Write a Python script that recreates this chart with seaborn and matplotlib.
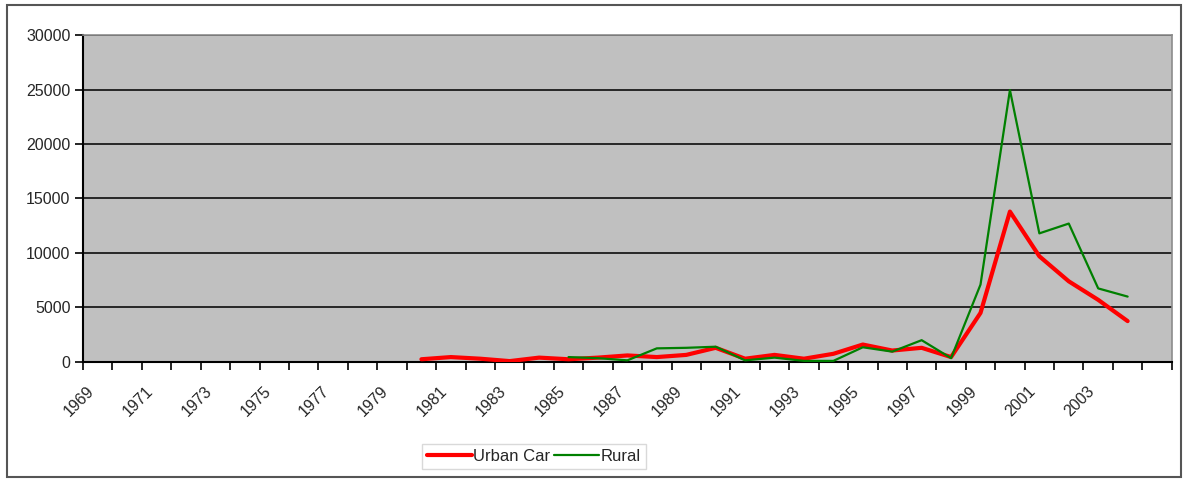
import numpy as np
import pandas as pd
import matplotlib.pyplot as plt
import matplotlib.transforms as mtransforms
import seaborn as sns
from matplotlib.patches import Rectangle

# -------------------- #
# Data
# -------------------- #
years = list(range(1969, 2006))
urban_years = list(range(1980, 2005))
urban_car = [250, 450, 300, 80, 400, 250, 400, 600, 450, 650,
             1300, 300, 650, 300, 750, 1600, 1050, 1300, 450, 4500,
             13800, 9700, 7400, 5700, 3750]
rural_years = list(range(1985, 2005))
rural = [450, 350, 150, 1250, 1300, 1400, 150, 400, 100, 100,
         1350, 950, 2000, 350, 7100, 24950, 11800, 12700, 6750, 6000]
label_years = list(range(1969, 2004, 2))

df = pd.concat([
    pd.DataFrame({"year": urban_years, "value": urban_car, "series": "Urban Car"}),
    pd.DataFrame({"year": rural_years, "value": rural, "series": "Rural"}),
])

sns.set_style("white")
plt.rcParams['font.family'] = ['Liberation Sans', 'DejaVu Sans']

fig = plt.figure(figsize=(11.86, 4.79), dpi=100)
ax = fig.add_axes([0.070, 0.2443, 0.918, 0.6826])
ax.set_facecolor("#c0c0c0")

sns.lineplot(data=df, x="year", y="value", hue="series", size="series",
             palette={"Urban Car": "#ff0000", "Rural": "#008000"},
             sizes={"Urban Car": 3.0, "Rural": 1.6},
             legend=False, ax=ax, zorder=3)

# -------------------- #
# Axes styling (Excel look)
# -------------------- #
ax.set_xlim(years[0] - 0.5, years[-1] + 0.5)
ax.set_ylim(0, 30000)
ax.set_yticks(range(0, 30001, 5000))
ax.yaxis.grid(True, color="#1a1a1a", linewidth=1.3)
ax.set_axisbelow(True)

ax.set_xticks(label_years)
ax.set_xticklabels([str(y) for y in label_years], rotation=45, ha="right",
                   va="center", rotation_mode="anchor")
ax.set_xticks([y - 0.5 for y in years] + [years[-1] + 0.5], minor=True)
ax.tick_params(axis="x", which="major", length=0, pad=19, labelsize=11.5)
ax.tick_params(axis="x", which="minor", length=6, width=1.2, color="black",
               direction="out", bottom=True)
ax.tick_params(axis="y", length=6, width=1.2, color="black", direction="out",
               left=True, labelsize=11.5, pad=3)
ax.set_xlabel("")
ax.set_ylabel("")

# nudge rotated year labels a little to the left
shift = mtransforms.ScaledTranslation(-6 / 100, 0, fig.dpi_scale_trans)
for lab in ax.get_xticklabels():
    lab.set_transform(lab.get_transform() + shift)

for side in ["top", "right"]:
    ax.spines[side].set_color("#8c8c8c")
    ax.spines[side].set_linewidth(1.2)
for side in ["left", "bottom"]:
    ax.spines[side].set_color("black")
    ax.spines[side].set_linewidth(1.5)

# Legend
handles = [plt.Line2D([], [], color="#ff0000", lw=3.0),
           plt.Line2D([], [], color="#008000", lw=1.6)]
leg = fig.legend(handles, ["Urban Car", "Rural"], loc="center",
                 bbox_to_anchor=(0.450, 0.047), ncol=2, fontsize=12,
                 handlelength=2.7, handletextpad=0.1, columnspacing=0.2,
                 borderpad=0.3, fancybox=False, frameon=True)
leg.get_frame().set_edgecolor("#d0d0d0")
leg.get_frame().set_linewidth(1.0)

# Outer chart border
fig.patches.append(Rectangle((0.006, 0.004), 0.99, 0.986, transform=fig.transFigure,
                             fill=False, edgecolor="#555555", linewidth=1.5))

fig.savefig("out.png", dpi=100)
